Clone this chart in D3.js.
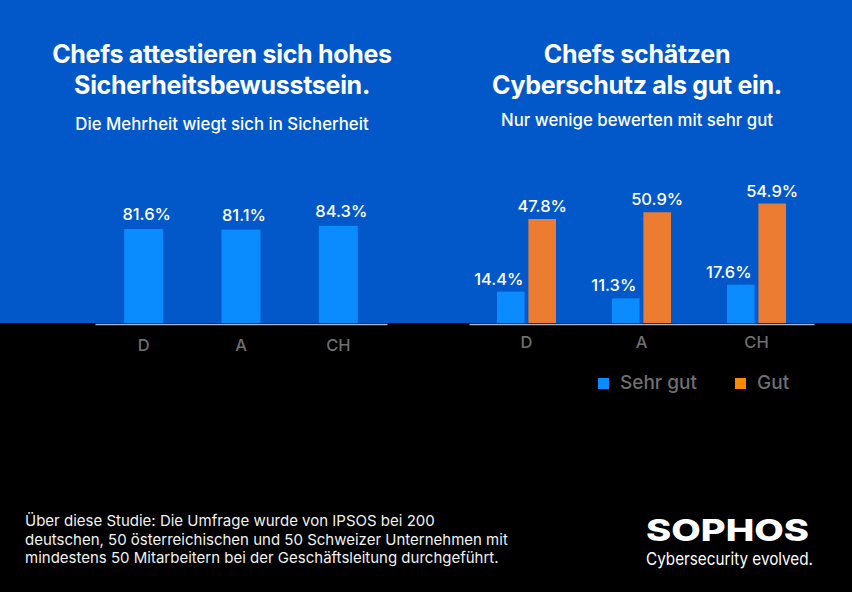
<!DOCTYPE html>
<html>
<head>
<meta charset="utf-8">
<script src="https://cdn.jsdelivr.net/npm/d3@7"></script>
<style>
  html, body { margin: 0; padding: 0; background: #000; }
  svg { display: block; font-family: Inter, 'Noto Sans', sans-serif; }
</style>
</head>
<body>
<script>
// data
const countries = ['D', 'A', 'CH'];
const awareness = [81.6, 81.1, 84.3];
const sehrGut = [14.4, 11.3, 17.6];
const gut = [47.8, 50.9, 54.9];
const seriesNames = ['Sehr gut', 'Gut'];

const W = 852, H = 592;
const baseY = 323;
const BLUE_BG = '#0258c9', BAR_BLUE = '#0a8cff', BAR_ORANGE = '#ec7c31';

const svg = d3.select('body').append('svg')
  .attr('width', W)
  .attr('height', H);

svg.append('rect').attr('width', W).attr('height', H).attr('fill', '#000');
svg.append('rect').attr('width', W).attr('height', baseY).attr('fill', BLUE_BG);

// titles
const addTitle = (cx, lines, sub, subY) => {
  lines.forEach((t, i) => {
    svg.append('text')
      .attr('x', cx).attr('y', 63 + i * 30.5)
      .attr('text-anchor', 'middle')
      .attr('fill', '#fff')
      .attr('font-size', 25)
      .attr('font-weight', 700)
      .attr('letter-spacing', -0.3)
      .text(t);
  });
  svg.append('text')
    .attr('x', cx).attr('y', subY)
    .attr('text-anchor', 'middle')
    .attr('fill', '#fff')
    .attr('font-size', 16.8)
    .attr('font-weight', 500)
    .text(sub);
};
addTitle(222, ['Chefs attestieren sich hohes', 'Sicherheitsbewusstsein.'], 'Die Mehrheit wiegt sich in Sicherheit', 130);
addTitle(637, ['Chefs schätzen', 'Cyberschutz als gut ein.'], 'Nur wenige bewerten mit sehr gut', 126);

// left chart
const x1 = d3.scaleBand().domain(countries).range([95, 387]);
const y1 = d3.scaleLinear().domain([0, 100]).range([baseY, baseY - 115.2]);
const bw1 = x1.bandwidth() * 0.4;

const left = svg.append('g');
left.selectAll('rect.bar')
  .data(countries)
  .enter()
  .append('rect')
  .attr('class', 'bar')
  .attr('x', (d) => x1(d) + x1.bandwidth() / 2 - bw1 / 2)
  .attr('y', (d, i) => y1(awareness[i]))
  .attr('width', bw1)
  .attr('height', (d, i) => baseY - y1(awareness[i]))
  .attr('fill', BAR_BLUE);

left.selectAll('text.val')
  .data(countries)
  .enter()
  .append('text')
  .attr('class', 'val')
  .attr('x', (d) => x1(d) + x1.bandwidth() / 2 + 3)
  .attr('y', (d, i) => y1(awareness[i]) - 9)
  .attr('text-anchor', 'middle')
  .attr('fill', '#fff')
  .attr('font-size', 16.5)
  .attr('font-weight', 500)
  .text((d, i) => awareness[i].toFixed(1) + '%');

const axis1 = left.append('g')
  .attr('transform', `translate(0, ${baseY + 1})`)
  .call(d3.axisBottom(x1).tickSize(0).tickPadding(15));

// right chart
const x2 = d3.scaleBand().domain(countries).range([469, 814]);
const xs = d3.scaleBand().domain(seriesNames).range([0, 59]).paddingInner(0.12);
const y2 = d3.scaleLinear().domain([0, 100]).range([baseY, baseY - 217.6]);

const rows = countries.map((c, i) => ({ c, vals: [sehrGut[i], gut[i]] }));
const groups = svg.append('g').selectAll('g')
  .data(rows)
  .enter()
  .append('g')
  .attr('transform', (d) => `translate(${x2(d.c) + x2.bandwidth() / 2 - 29.5}, 0)`);

groups.selectAll('rect')
  .data((d) => d.vals.map((v, j) => ({ v, s: seriesNames[j] })))
  .enter()
  .append('rect')
  .attr('x', (d) => xs(d.s))
  .attr('y', (d) => y2(d.v))
  .attr('width', xs.bandwidth())
  .attr('height', (d) => baseY - y2(d.v))
  .attr('fill', (d) => d.s === 'Gut' ? BAR_ORANGE : BAR_BLUE);

groups.selectAll('text')
  .data((d) => d.vals.map((v, j) => ({ v, s: seriesNames[j] })))
  .enter()
  .append('text')
  .attr('x', (d) => xs(d.s) + xs.bandwidth() / 2 + (d.s === 'Gut' ? 0 : -12))
  .attr('y', (d) => y2(d.v) - 7)
  .attr('text-anchor', 'middle')
  .attr('fill', '#fff')
  .attr('font-size', 16.5)
  .attr('font-weight', 500)
  .text((d) => d.v.toFixed(1) + '%');

const axis2 = svg.append('g')
  .attr('transform', `translate(0, ${baseY + 1})`)
  .call(d3.axisBottom(x2).tickSize(0).tickPadding(12));

[axis1, axis2].forEach((a) => {
  a.select('.domain').attr('stroke', '#a9b3cc').attr('stroke-width', 1.5);
  a.selectAll('text')
    .attr('fill', '#6f6f6f')
    .attr('font-size', 16.5)
    .attr('font-family', 'Inter, sans-serif')
    .attr('font-weight', 500);
});

// legend
const legendColors = [BAR_BLUE, '#ff8a00'];
const legendX = [598, 735];
const legend = svg.append('g').selectAll('g')
  .data(seriesNames)
  .enter()
  .append('g')
  .attr('transform', (d, i) => `translate(${legendX[i]}, 378)`);
legend.append('rect')
  .attr('width', 11).attr('height', 11)
  .attr('fill', (d, i) => legendColors[i]);
legend.append('text')
  .attr('x', 22).attr('y', 11)
  .attr('fill', '#6f6f6f')
  .attr('font-size', 19)
  .attr('font-weight', 500)
  .text((d) => d);

// footnote
const notes = [
  'Über diese Studie: Die Umfrage wurde von IPSOS bei 200',
  'deutschen, 50 österreichischen und 50 Schweizer Unternehmen mit',
  'mindestens 50 Mitarbeitern bei der Geschäftsleitung durchgeführt.'
];
svg.append('g').selectAll('text')
  .data(notes)
  .enter()
  .append('text')
  .attr('x', 25)
  .attr('y', (d, i) => 526 + i * 18.5)
  .attr('fill', '#f2f2f2')
  .attr('font-size', 15)
  .attr('font-weight', 400)
  .text((d) => d);

// logo
svg.append('text')
  .attr('x', 646).attr('y', 541)
  .attr('fill', '#fff')
  .attr('font-size', 30)
  .attr('font-weight', 800)
  .attr('textLength', 163)
  .attr('lengthAdjust', 'spacingAndGlyphs')
  .text('SOPHOS');
svg.append('text')
  .attr('x', 646).attr('y', 565)
  .attr('fill', '#fff')
  .attr('font-size', 17)
  .attr('font-weight', 400)
  .attr('textLength', 167)
  .attr('lengthAdjust', 'spacingAndGlyphs')
  .text('Cybersecurity evolved.');
</script>
</body>
</html>
